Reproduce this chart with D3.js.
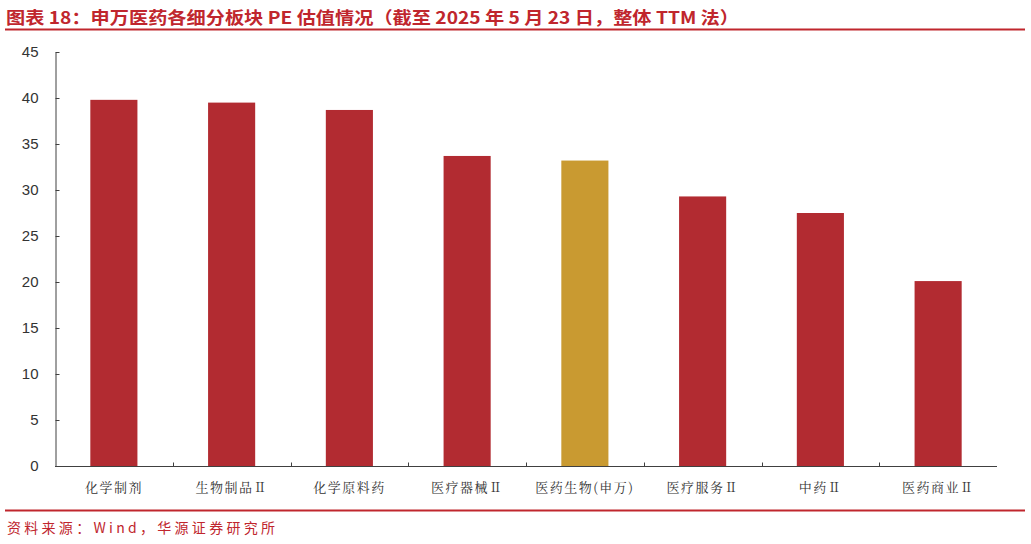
<!DOCTYPE html>
<html>
<head>
<meta charset="utf-8">
<script src="https://cdn.jsdelivr.net/npm/d3@7"></script>
<style>
  body { margin: 0; background: #fff; }
  svg { display: block; }
</style>
</head>
<body>
<svg id="chart" width="1031" height="544"></svg>
<script>
const categories = ["化学制剂", "生物制品Ⅱ", "化学原料药", "医疗器械Ⅱ", "医药生物(申万)", "医疗服务Ⅱ", "中药Ⅱ", "医药商业Ⅱ"];
const peValues = [39.8, 39.5, 38.7, 33.7, 33.2, 29.3, 27.5, 20.1];
const highlightCategory = "医药生物(申万)";
const yTicks = [0, 5, 10, 15, 20, 25, 30, 35, 40, 45];
const titleText = "图表 18：申万医药各细分板块 PE 估值情况（截至 2025 年 5 月 23 日，整体 TTM 法）";
const sourceText = "资料来源：Wind，华源证券研究所";

const svg = d3.select("#chart");
const red = "#c0262d";
const barRed = "#b22b31";
const gold = "#c99a31";

// Title
svg.append("text")
  .attr("x", 6).attr("y", 24)
  .attr("font-family", "'Noto Sans CJK SC', sans-serif")
  .attr("font-weight", "bold")
  .attr("font-size", 17)
  .attr("fill", red)
  .attr("textLength", 733)
  .attr("lengthAdjust", "spacingAndGlyphs")
  .text(titleText);
svg.append("line").attr("x1", 5).attr("x2", 1025).attr("y1", 29.5).attr("y2", 29.5)
  .attr("stroke", red).attr("stroke-width", 2);

// Footer
svg.append("line").attr("x1", 5).attr("x2", 1025).attr("y1", 510.5).attr("y2", 510.5)
  .attr("stroke", red).attr("stroke-width", 2);
svg.append("text")
  .attr("x", 7).attr("y", 533)
  .attr("font-family", "'Noto Sans CJK SC', sans-serif")
  .attr("font-size", 14)
  .attr("fill", red)
  .attr("textLength", 268)
  .attr("lengthAdjust", "spacing")
  .text(sourceText);

// Plot
const x0 = 55, x1 = 997, yTop = 52, yBot = 466;
const x = d3.scaleBand().domain(categories).range([x0, x1]).paddingInner(0.6).paddingOuter(0.3);
const y = d3.scaleLinear().domain([0, 45]).range([yBot, yTop]);

const g = svg.append("g");

g.selectAll("rect.bar").data(categories).enter().append("rect")
  .attr("class", "bar")
  .attr("x", d => x(d))
  .attr("width", x.bandwidth())
  .attr("y", (d, i) => y(peValues[i]))
  .attr("height", (d, i) => y(0) - y(peValues[i]))
  .attr("fill", d => d === highlightCategory ? gold : barRed);

// Y axis
const yAxis = d3.axisLeft(y).tickValues(yTicks).tickSize(-4).tickPadding(17).tickSizeOuter(0);
const ya = svg.append("g").attr("transform", `translate(${x0 + 0.5},0)`).call(yAxis);
ya.select(".domain").attr("stroke", "#404040");
ya.selectAll(".tick line").attr("stroke", "#404040");
ya.selectAll(".tick text")
  .attr("font-family", "'Liberation Sans', Arial, sans-serif")
  .attr("font-size", 15)
  .attr("fill", "#333");

// X axis with boundary ticks
const step = x.step();
const xAxis = d3.axisBottom(x).tickSize(0).tickPadding(16).tickSizeOuter(0);
const xa = svg.append("g").attr("transform", `translate(0,${yBot + 0.5})`).call(xAxis);
xa.select(".domain").attr("stroke", "#404040").attr("d", `M${x0},0H${x1}`);
xa.selectAll(".tick text")
  .attr("font-family", "'Noto Serif CJK SC', 'Noto Sans CJK SC', serif")
  .attr("font-size", 13)
  .attr("letter-spacing", "1.5px")
  .attr("fill", "#333");
const boundaries = categories.slice(1).map(d => x(d) - x.paddingInner() * step / 2);
xa.selectAll("line.bnd").data(boundaries).enter().append("line")
  .attr("class", "bnd")
  .attr("x1", d => Math.round(d) + 0.5).attr("x2", d => Math.round(d) + 0.5)
  .attr("y1", 0).attr("y2", -4)
  .attr("stroke", "#404040");
</script>
</body>
</html>
